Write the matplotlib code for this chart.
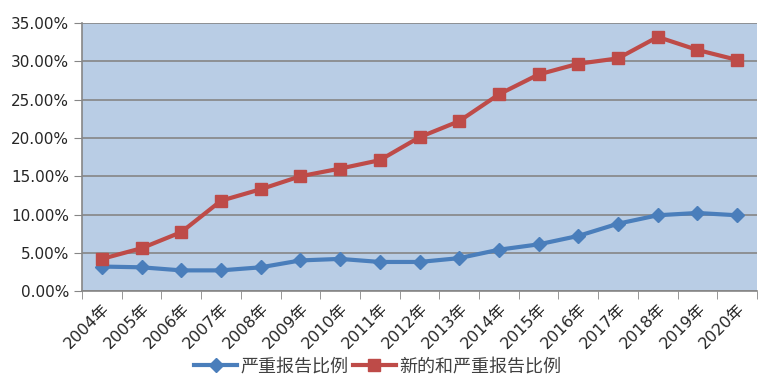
import numpy as np
import matplotlib.pyplot as plt
from matplotlib.ticker import FuncFormatter

# 年份与两条序列 (%)
years = [f"{y}年" for y in range(2004, 2021)]
serious = [3.2, 3.1, 2.7, 2.7, 3.1, 4.0, 4.2, 3.8, 3.8, 4.3, 5.4, 6.1, 7.2, 8.8, 9.9, 10.2, 9.9]
new_serious = [4.2, 5.6, 7.7, 11.8, 13.3, 15.0, 16.0, 17.1, 20.1, 22.2, 25.7, 28.3, 29.7, 30.4, 33.2, 31.5, 30.2]

plt.rcParams['font.family'] = ['DejaVu Sans', 'Noto Sans CJK SC']

fig = plt.figure(figsize=(7.6, 3.86), dpi=100)
ax = fig.add_axes([0.108, 0.246, 0.888, 0.694])
ax.set_facecolor('#b9cde5')

x = np.arange(len(years))
ax.plot(x, serious, color='#4a7ebb', lw=3, marker='D', ms=7, label='严重报告比例', zorder=3)
ax.plot(x, new_serious, color='#be4b48', lw=3, marker='s', ms=9, label='新的和严重报告比例', zorder=3)

ax.set_xlim(-0.5, len(years) - 0.5)
ax.set_ylim(0, 35)
ax.set_yticks(np.arange(0, 36, 5))
ax.yaxis.set_major_formatter(FuncFormatter(lambda v, p: f"{v:.2f}%"))
ax.grid(axis='y', color='#868686', lw=1.2)
ax.set_axisbelow(True)

ax.set_xticks(x)
ax.set_xticks(np.arange(-0.5, len(years), 1), minor=True)
ax.set_xticklabels(years, rotation=45, ha='right', rotation_mode='anchor', fontsize=11.5,
                   color='#262626')
ax.tick_params(axis='x', which='major', length=0, pad=7)
ax.tick_params(axis='x', which='minor', length=6, color='#868686', direction='out')
ax.tick_params(axis='y', length=6, color='#868686', labelsize=11, labelcolor='#262626')

for s in ['top', 'right']:
    ax.spines[s].set_visible(False)
for s in ['left', 'bottom']:
    ax.spines[s].set_color('#868686')
    ax.spines[s].set_linewidth(1.2)

h, l = ax.get_legend_handles_labels()
fig.legend(h, l, loc='center', bbox_to_anchor=(0.497, 0.05), ncol=2, frameon=False,
           handlelength=2.4, columnspacing=0.2, handletextpad=0.2, borderpad=0,
           labelcolor='#404040',
           prop={'family': ['Noto Sans CJK SC', 'DejaVu Sans'], 'size': 13})

fig.savefig('out.png', dpi=100)
